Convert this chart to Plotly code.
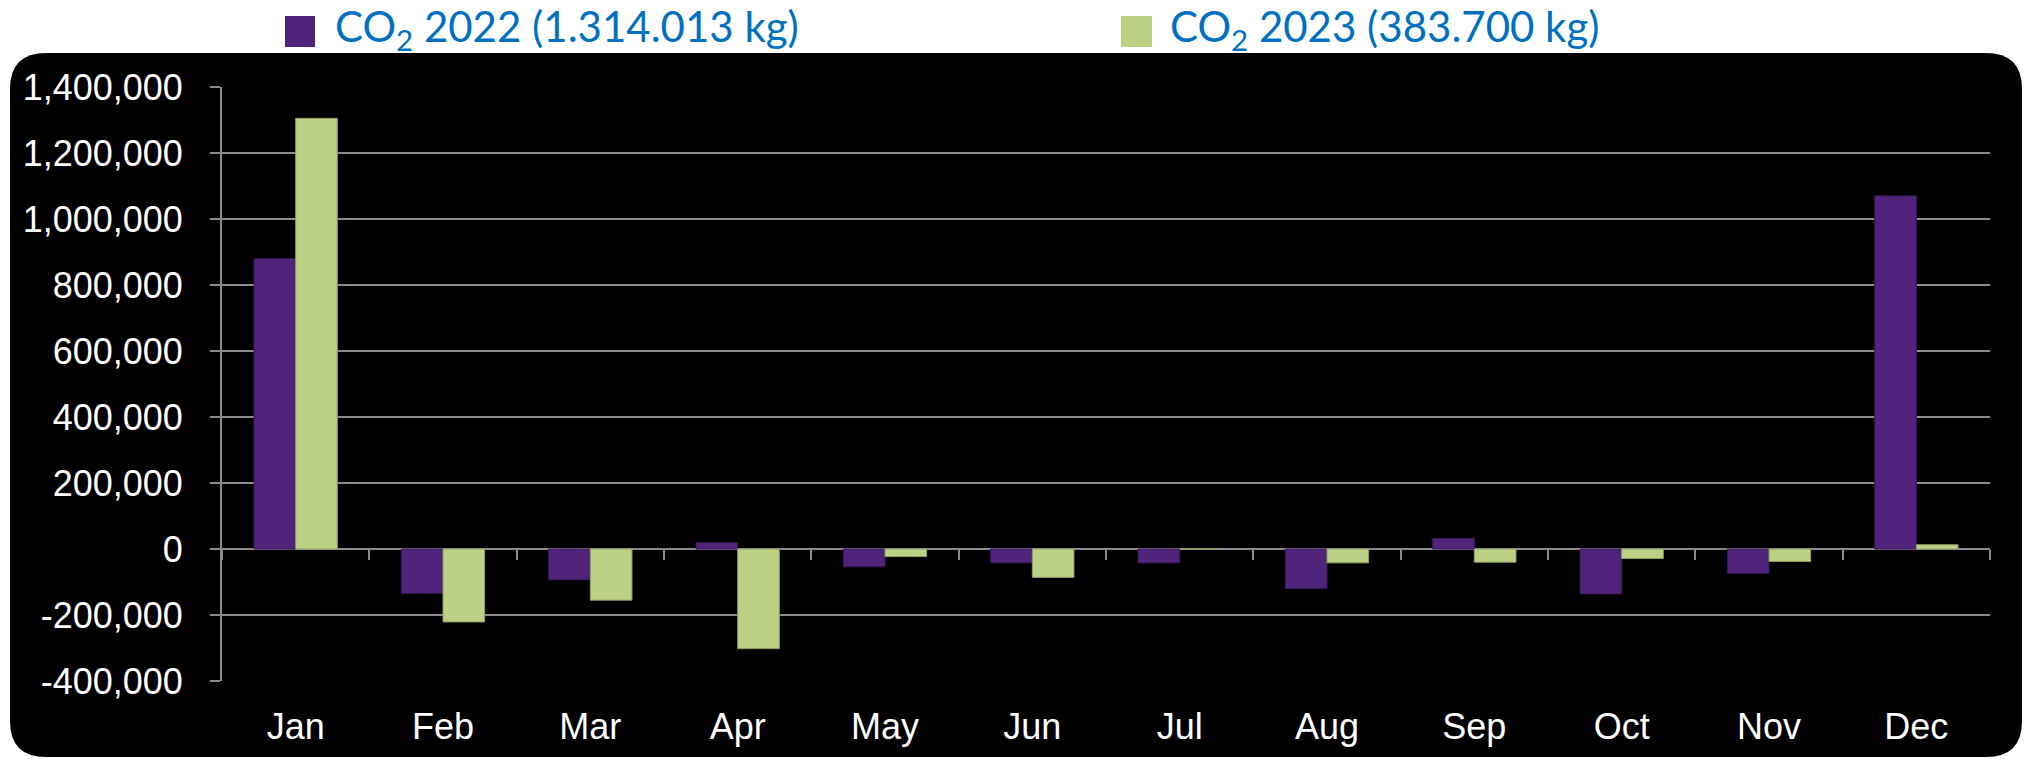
import plotly.graph_objects as go

months = ['Jan', 'Feb', 'Mar', 'Apr', 'May', 'Jun', 'Jul', 'Aug', 'Sep', 'Oct', 'Nov', 'Dec']
co2_2022 = [880000, -134000, -93000, 19000, -54000, -42000, -42000, -120000, 32000, -136000, -74000, 1070000]
co2_2023 = [1305000, -221000, -155000, -302000, -23000, -86000, 0, -42000, -40000, -29000, -38000, 13000]
name_2022 = 'CO<sub>2</sub> 2022 (1.314.013 kg)'
name_2023 = 'CO<sub>2</sub> 2023 (383.700 kg)'
ytick_vals = [-400000, -200000, 0, 200000, 400000, 600000, 800000, 1000000, 1200000, 1400000]
ytick_text = ['-400,000', '-200,000', '0', '200,000', '400,000', '600,000', '800,000',
              '1,000,000', '1,200,000', '1,400,000']

PURPLE = '#51247B'
GREEN = '#BDD185'
GRID = '#8A8A8A'

W, H = 2028, 759
ML, MR, MT, MB = 222, 38, 87, 78
PW, PH = W - ML - MR, H - MT - MB


def px(x):
    return (x - ML) / PW


def py(y):
    return 1 - (y - MT) / PH


fig = go.Figure()
fig.add_trace(go.Bar(x=months, y=co2_2022, name=name_2022, marker_color=PURPLE,
                     marker_line=dict(color='#3A1A58', width=1), showlegend=False))
fig.add_trace(go.Bar(x=months, y=co2_2023, name=name_2023, marker_color=GREEN,
                     marker_line=dict(color='#8E9E60', width=1), showlegend=False))
# helper trace carrying the category axis drawn at y = 0 (tick marks only)
fig.add_trace(go.Scatter(x=months, y=[None] * len(months), xaxis='x2', mode='lines',
                         showlegend=False, hoverinfo='skip'))

# rounded black panel
x0, x1, y0, y1, r = px(10), px(2022), py(53), py(757), 36
rx, ry = r / PW, r / PH
path = (f'M{x0 + rx},{y0} L{x1 - rx},{y0} Q{x1},{y0} {x1},{y0 - ry} '
        f'L{x1},{y1 + ry} Q{x1},{y1} {x1 - rx},{y1} L{x0 + rx},{y1} '
        f'Q{x0},{y1} {x0},{y1 + ry} L{x0},{y0 - ry} Q{x0},{y0} {x0 + rx},{y0} Z')
shapes = [dict(type='path', path=path, xref='paper', yref='paper', fillcolor='black',
               line=dict(width=0), layer='below')]
# legend squares
for (a, b, col) in [(285, 315, PURPLE), (1121, 1152, GREEN)]:
    shapes.append(dict(type='rect', xref='paper', yref='paper', x0=px(a), x1=px(b),
                       y0=py(47), y1=py(16), fillcolor=col, line=dict(width=0)))

annotations = []
for (a, txt) in [(333, name_2022), (1168, name_2023)]:
    annotations.append(dict(x=px(a), y=py(29), xref='paper', yref='paper', text=txt,
                            showarrow=False, xanchor='left', yanchor='middle',
                            font=dict(family='Lato', size=42, color='#0070C0')))

fig.update_layout(
    width=W, height=H,
    margin=dict(l=ML, r=MR, t=MT, b=MB),
    paper_bgcolor='white', plot_bgcolor='rgba(0,0,0,0)',
    barmode='group', bargap=0.435, bargroupgap=0,
    shapes=shapes, annotations=annotations,
    xaxis=dict(type='category', range=[-0.5, 11.5], showgrid=False, showline=False,
               zeroline=False, ticks='outside', ticklen=14, tickcolor='rgba(0,0,0,0)',
               tickfont=dict(family='Liberation Sans', size=36, color='white')),
    xaxis2=dict(type='category', overlaying='x', anchor='free', position=400000 / 1800000,
                range=[-0.5, 11.5], categoryarray=months, categoryorder='array',
                tickson='boundaries', ticks='outside', ticklen=10, tickwidth=2,
                tickcolor=GRID, showticklabels=False, showgrid=False, showline=False,
                zeroline=False),
    yaxis=dict(range=[-400000, 1400000], tickvals=ytick_vals, ticktext=ytick_text,
               showgrid=True, gridcolor=GRID, gridwidth=2,
               zeroline=True, zerolinecolor=GRID, zerolinewidth=2,
               showline=True, linecolor=GRID, linewidth=2,
               ticks='outside', ticklen=10, tickwidth=2, tickcolor=GRID,
               ticklabelstandoff=20,
               tickfont=dict(family='Liberation Sans', size=36, color='white')),
)

fig.write_html('out.html', config={'displayModeBar': False},
               post_script="document.body.style.margin='0';document.body.style.overflow='hidden';")
